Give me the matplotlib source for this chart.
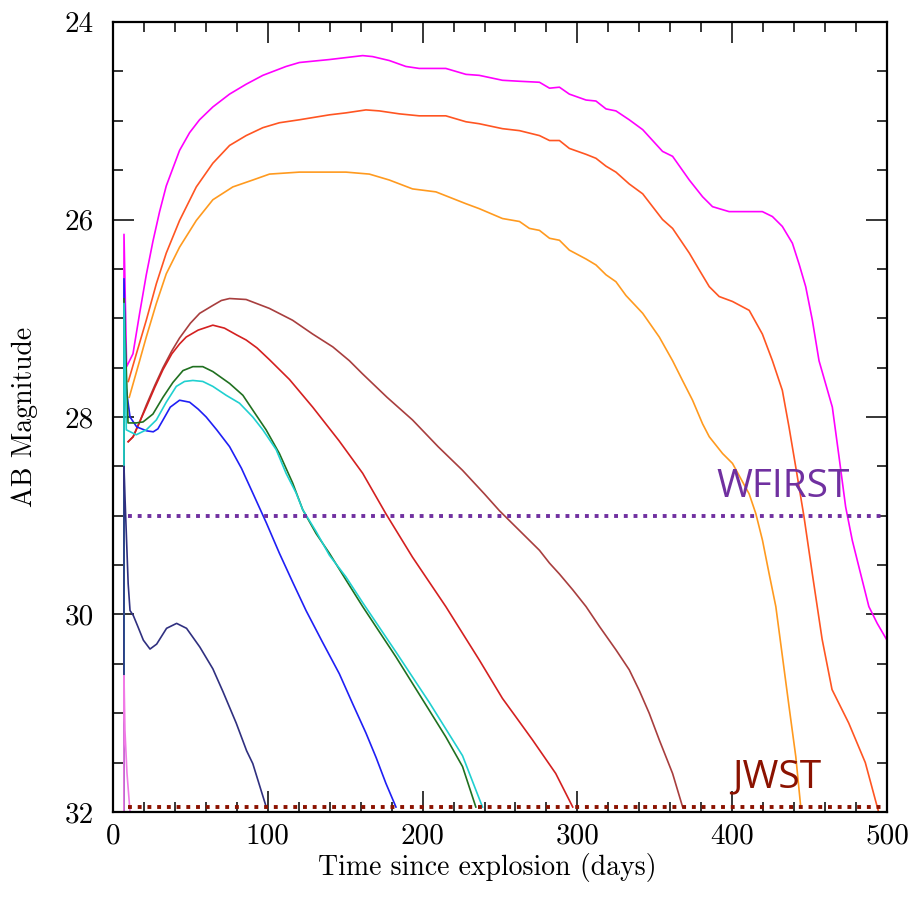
import matplotlib
matplotlib.use("Agg")
import matplotlib.pyplot as plt
from matplotlib.ticker import MultipleLocator

# ----------------- Light curve data -----------------

magenta_days = [7.0, 7.1, 8.8, 12.9, 17.2, 21.5, 25.8, 30.1, 34.4, 43.0, 49.5, 55.9, 64.5, 75.3,
                86.0, 96.8, 111.8, 120.4, 139.8, 161.3, 167.7, 178.5, 189.2, 197.8, 215.0,
                221.5, 228.0, 236.6, 251.6, 262.6, 275.5, 282.0, 288.4, 294.8, 305.6, 312.0,
                318.5, 324.9, 333.5, 342.2, 348.6, 355.0, 361.5, 372.3, 380.9, 387.3, 398.0,
                419.5, 426.0, 432.4, 438.9, 443.2, 447.5, 451.8, 456.1, 464.7, 469.0, 473.3,
                477.6, 481.9, 488.3, 493.7, 500.0]
magenta_mags = [32.5, 26.15, 27.49, 27.36, 26.95, 26.56, 26.22, 25.92, 25.66, 25.30, 25.12, 24.99,
                24.86, 24.73, 24.63, 24.54, 24.45, 24.41, 24.38, 24.34, 24.35, 24.39, 24.45,
                24.47, 24.47, 24.50, 24.53, 24.54, 24.59, 24.60, 24.61, 24.67, 24.66, 24.73,
                24.79, 24.80, 24.88, 24.90, 24.99, 25.09, 25.20, 25.31, 25.36, 25.60, 25.77,
                25.87, 25.92, 25.92, 25.97, 26.07, 26.24, 26.45, 26.68, 27.02, 27.43, 27.90,
                28.40, 28.91, 29.25, 29.52, 29.92, 30.09, 30.26]

orangered_days = [9.9, 15.1, 21.5, 28.0, 34.4, 43.0, 53.8, 64.5, 75.3, 86.0, 96.8, 107.5, 120.4,
                  139.8, 150.5, 163.4, 172.0, 185.0, 197.8, 215.0, 228.0, 236.6, 251.6, 262.6,
                  275.5, 282.0, 288.4, 294.8, 305.6, 312.0, 318.5, 324.9, 333.5, 342.2, 348.6,
                  355.0, 361.5, 372.3, 378.7, 385.2, 391.6, 400.2, 411.0, 419.5, 426.0, 432.4,
                  436.7, 441.0, 446.3, 451.7, 458.1, 464.5, 475.3, 486.0, 494.6]
orangered_mags = [27.64, 27.36, 27.02, 26.65, 26.34, 26.01, 25.67, 25.43, 25.25, 25.15, 25.07,
                  25.02, 24.99, 24.94, 24.92, 24.89, 24.90, 24.93, 24.95, 24.95, 25.01, 25.03,
                  25.08, 25.10, 25.15, 25.20, 25.20, 25.28, 25.34, 25.38, 25.46, 25.52, 25.64,
                  25.74, 25.87, 26.00, 26.09, 26.34, 26.51, 26.68, 26.78, 26.83, 26.92, 27.16,
                  27.43, 27.73, 28.10, 28.50, 29.00, 29.58, 30.25, 30.76, 31.10, 31.50, 32.00]

orange_days = [10.5, 17.2, 21.5, 28.0, 34.4, 43.0, 53.8, 64.5, 77.4, 90.3, 101.1, 120.4, 150.5,
               165.6, 178.5, 193.5, 208.6, 228.0, 236.6, 251.6, 262.6, 269.0, 275.5, 282.0,
               288.4, 294.8, 305.6, 312.0, 318.5, 324.9, 331.4, 342.2, 352.9, 361.5, 367.9,
               374.4, 380.9, 385.2, 393.8, 400.2, 411.0, 415.3, 419.6, 423.9, 428.2, 432.5,
               436.8, 441.1, 444.3]
orange_mags = [27.80, 27.43, 27.19, 26.85, 26.55, 26.28, 26.01, 25.80, 25.67, 25.60, 25.54,
               25.52, 25.52, 25.54, 25.60, 25.69, 25.72, 25.84, 25.89, 25.99, 26.02, 26.09,
               26.11, 26.19, 26.21, 26.31, 26.40, 26.46, 26.56, 26.63, 26.77, 26.95, 27.19,
               27.43, 27.63, 27.83, 28.07, 28.20, 28.37, 28.47, 28.78, 28.98, 29.25, 29.59,
               29.92, 30.43, 30.94, 31.44, 31.95]

brown_days = [9.8, 13.0, 17.2, 21.5, 27.0, 32.3, 38.0, 43.0, 50.0, 56.0, 64.5, 70.0, 75.3, 86.0,
              101.0, 116.0, 129.0, 142.0, 152.7, 161.0, 177.0, 193.5, 210.0, 225.8, 240.0,
              249.7, 262.6, 275.5, 282.0, 288.4, 297.0, 305.6, 314.2, 325.0, 333.5, 340.0,
              346.4, 352.9, 361.5, 368.0]
brown_mags = [28.25, 28.20, 28.05, 27.88, 27.68, 27.50, 27.33, 27.20, 27.05, 26.95, 26.87, 26.82,
              26.80, 26.81, 26.90, 27.02, 27.16, 27.29, 27.43, 27.56, 27.80, 28.03, 28.30,
              28.54, 28.78, 28.95, 29.15, 29.35, 29.48, 29.59, 29.75, 29.92, 30.12, 30.36,
              30.56, 30.77, 31.00, 31.27, 31.61, 31.95]

red_days = [9.8, 13.0, 17.2, 21.5, 27.0, 32.3, 38.0, 43.0, 47.3, 55.0, 64.5, 72.0, 80.0, 86.0,
            93.0, 101.1, 114.0, 129.0, 146.0, 161.3, 176.3, 193.5, 215.0, 236.6, 251.6, 260.4,
            271.0, 286.0, 297.0]
red_mags = [28.25, 28.20, 28.05, 27.90, 27.70, 27.52, 27.36, 27.26, 27.19, 27.12, 27.07, 27.10,
            27.17, 27.22, 27.30, 27.42, 27.62, 27.90, 28.24, 28.57, 28.98, 29.42, 29.92, 30.46,
            30.85, 31.04, 31.27, 31.61, 31.95]

green_days = [7.0, 7.1, 9.7, 14.9, 19.4, 25.8, 32.3, 38.7, 45.2, 51.6, 58.0, 64.5, 75.3, 83.9,
              90.3, 98.9, 107.5, 116.1, 122.6, 131.2, 139.8, 150.5, 161.3, 182.8, 204.3, 215.0,
              225.8, 234.4]
green_mags = [32.5, 26.80, 28.06, 28.06, 28.05, 27.97, 27.80, 27.65, 27.53, 27.49, 27.49, 27.54,
              27.66, 27.78, 27.93, 28.13, 28.37, 28.67, 28.94, 29.18, 29.38, 29.65, 29.92, 30.43,
              30.97, 31.24, 31.54, 31.95]

cyan_days = [7.0, 7.1, 8.6, 15.0, 21.5, 28.0, 34.4, 40.9, 46.2, 51.6, 58.0, 64.5, 73.1, 81.7,
             90.3, 96.8, 105.4, 111.8, 118.3, 122.6, 131.2, 139.8, 150.5, 161.3, 182.8, 204.3,
             225.8, 238.7]
cyan_mags = [32.5, 26.85, 28.13, 28.18, 28.13, 28.03, 27.85, 27.69, 27.64, 27.63, 27.64, 27.69,
             27.78, 27.86, 28.00, 28.13, 28.33, 28.57, 28.77, 28.94, 29.16, 29.40, 29.62, 29.88,
             30.38, 30.89, 31.43, 31.95]

blue_days = [7.0, 7.1, 8.4, 11.0, 15.3, 21.7, 26.0, 29.0, 32.3, 37.0, 43.0, 49.5, 55.0, 60.2,
             67.0, 75.3, 83.0, 90.3, 99.0, 107.5, 116.0, 124.7, 135.0, 146.2, 155.0, 163.4,
             170.0, 176.3, 182.8]
blue_mags = [32.5, 26.60, 27.70, 28.00, 28.10, 28.14, 28.15, 28.12, 28.03, 27.90, 27.83, 27.85,
             27.92, 28.00, 28.13, 28.30, 28.52, 28.77, 29.07, 29.38, 29.67, 29.96, 30.27, 30.60,
             30.91, 31.20, 31.45, 31.71, 31.95]

navy_days = [7.0, 7.1, 7.8, 8.6, 9.8, 11.0, 13.1, 16.0, 19.6, 23.9, 28.2, 34.6, 41.1, 47.5,
             56.1, 64.5, 71.0, 79.6, 86.3, 90.3, 99.0]
navy_mags = [32.5, 28.50, 28.84, 29.18, 29.69, 29.96, 30.01, 30.12, 30.26, 30.35, 30.30, 30.14,
             30.09, 30.14, 30.33, 30.55, 30.78, 31.10, 31.38, 31.51, 31.95]

pink_days = [7.0, 7.1, 7.7, 9.0, 11.0, 12.0]
pink_mags = [32.5, 30.62, 31.17, 31.60, 32.00, 32.30]

# detection limits
limit_names = ["WFIRST", "JWST"]
limit_mags = [29.0, 31.95]
limit_start = 10.0
limit_end = 500.0

# ----------------- Figure -----------------

fig = plt.figure(figsize=(9.18, 8.99), dpi=100)
ax = fig.add_axes([0.1231, 0.0968, 0.8431, 0.8787])

curves = [
    (magenta_days, magenta_mags, "#ff00ff"),
    (orangered_days, orangered_mags, "#ff5522"),
    (orange_days, orange_mags, "#ff9a1f"),
    (brown_days, brown_mags, "#a83e3e"),
    (red_days, red_mags, "#d42020"),
    (blue_days, blue_mags, "#1f1ff5"),
    (green_days, green_mags, "#207020"),
    (cyan_days, cyan_mags, "#20d0d0"),
    (navy_days, navy_mags, "#303080"),
    (pink_days, pink_mags, "#f07ae6"),
]
for days, mags, col in curves:
    ax.plot(days, mags, color=col, lw=1.2, solid_joinstyle="round")

limit_colors = ["#7030a0", "#8b1200"]
for mag, col in zip(limit_mags, limit_colors):
    ax.plot([limit_start, limit_end], [mag, mag], color=col, lw=2.8,
            linestyle=(0, (1, 1.5)), dash_capstyle="butt", clip_on=False)

ax.text(389.7, 28.81, limit_names[0], color=limit_colors[0], fontsize=28,
        family="Open Sans", ha="left", va="baseline")
ax.text(400.0, 31.75, limit_names[1], color=limit_colors[1], fontsize=28,
        family="Open Sans", ha="left", va="baseline")

# ----------------- Axes styling -----------------

ax.set_xlim(0, 500)
ax.set_ylim(32, 24)
ax.xaxis.set_major_locator(MultipleLocator(100))
ax.xaxis.set_minor_locator(MultipleLocator(20))
ax.yaxis.set_major_locator(MultipleLocator(2))
ax.yaxis.set_minor_locator(MultipleLocator(0.5))

ax.tick_params(which="both", direction="in", top=True, right=True, color="black")
ax.tick_params(which="major", length=15, width=1.1)
ax.tick_params(which="minor", length=7.5, width=1.1)
ax.tick_params(axis="x", pad=8)
ax.tick_params(axis="y", pad=14)
for lab in ax.get_xticklabels() + ax.get_yticklabels():
    lab.set_family("cmr10")
    lab.set_fontsize(21)

for sp in ax.spines.values():
    sp.set_linewidth(1.6)

ax.set_xlabel("Time since explosion (days)", family="cmr10", fontsize=20)
ax.set_ylabel("AB Magnitude", family="cmr10", fontsize=20)
ax.xaxis.set_label_coords(0.483, -0.052)
ax.yaxis.set_label_coords(-0.097, 0.5)

fig.savefig("out.png", dpi=100)
